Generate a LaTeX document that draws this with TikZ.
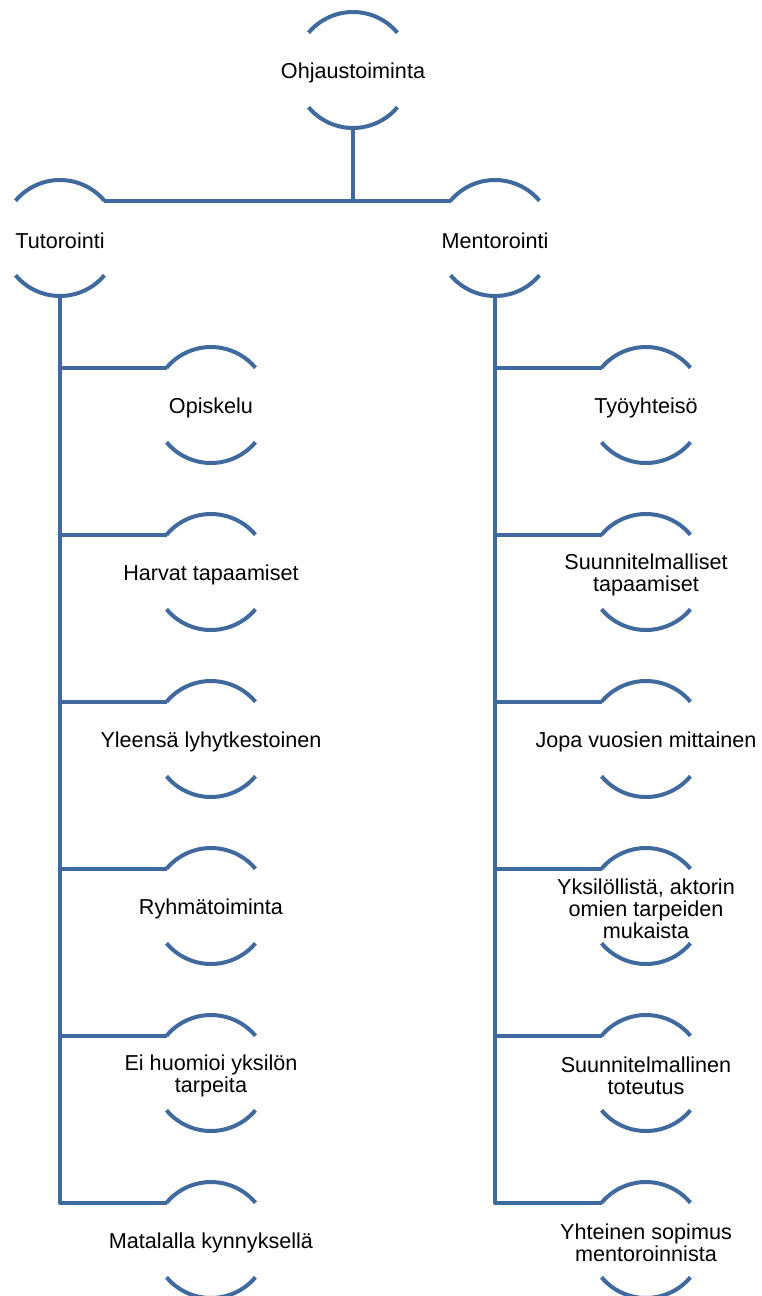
\documentclass[tikz,border=0pt]{standalone}
\usepackage{fontspec}
\setmainfont{Liberation Sans}
\definecolor{arcblue}{RGB}{64,106,158}
\tikzset{
  lbl/.style={align=center, inner sep=0pt, yshift=-2pt, font=\fontsize{16.2}{16.8}\selectfont},
  arcline/.style={draw=arcblue, line width=3pt},
  conn/.style={draw=arcblue, line width=3pt, line join=round}
}
\newcommand{\R}{43.5pt}
% two arcs above and below a named node, with coordinates at the ends
\newcommand{\bracketarcs}[1]{%
  \draw[arcline] (#1.center) ++(0,2pt) ++(140:\R) coordinate (#1-tl)
    arc[start angle=140, end angle=40, radius=\R] coordinate (#1-tr);
  \draw[arcline] (#1.center) ++(0,2pt) ++(220:\R)
    arc[start angle=220, end angle=320, radius=\R];
  \path (#1.center) ++(0,2pt) ++(270:\R) coordinate (#1-b);
}
\begin{document}
\begin{tikzpicture}[x=0.75pt, y=0.75pt]
			\useasboundingbox (0,0) rectangle (761,-1296);

			% Define nodes with their coordinates
			\node[lbl] (top) at (353, -70) {Ohjaustoiminta};
			\node[lbl] (tut) at (60, -238) {Tutorointi};
			\node[lbl] (men) at (495, -238) {Mentorointi};

			\node[lbl] (opi) at (211, -405) {Opiskelu};
			\node[lbl] (har) at (211, -572) {Harvat tapaamiset};
			\node[lbl] (yle) at (211, -739) {Yleensä lyhytkestoinen};
			\node[lbl] (ryh) at (211, -906) {Ryhmätoiminta};
			\node[lbl] (eih) at (211, -1073) {Ei huomioi yksilön\\tarpeita};
			\node[lbl] (mat) at (211, -1240) {Matalalla kynnyksellä};

			\node[lbl] (tyo) at (646, -405) {Työyhteisö};
			\node[lbl] (sut) at (646, -572) {Suunnitelmalliset\\tapaamiset};
			\node[lbl] (jop) at (646, -739) {Jopa vuosien mittainen};
			\node[lbl] (yks) at (646, -906) {Yksilöllistä, aktorin\\omien tarpeiden\\mukaista};
			\node[lbl] (sto) at (646, -1073) {Suunnitelmallinen\\toteutus};
			\node[lbl] (yht) at (646, -1240) {Yhteinen sopimus\\mentoroinnista};

			% Arcs round every node
			\foreach \n in {top,tut,men,opi,har,yle,ryh,eih,mat,tyo,sut,jop,yks,sto,yht}
				{\bracketarcs{\n}}

			% Draw connectors
			\draw[conn] (top-b) |- (tut-tr);
			\draw[conn] (top-b) |- (men-tl);
			\foreach \c in {opi,har,yle,ryh,eih,mat}
				{\draw[conn] (tut-b) |- (\c-tl);}
			\foreach \c in {tyo,sut,jop,yks,sto,yht}
				{\draw[conn] (men-b) |- (\c-tl);}

		\end{tikzpicture}
\end{document}
